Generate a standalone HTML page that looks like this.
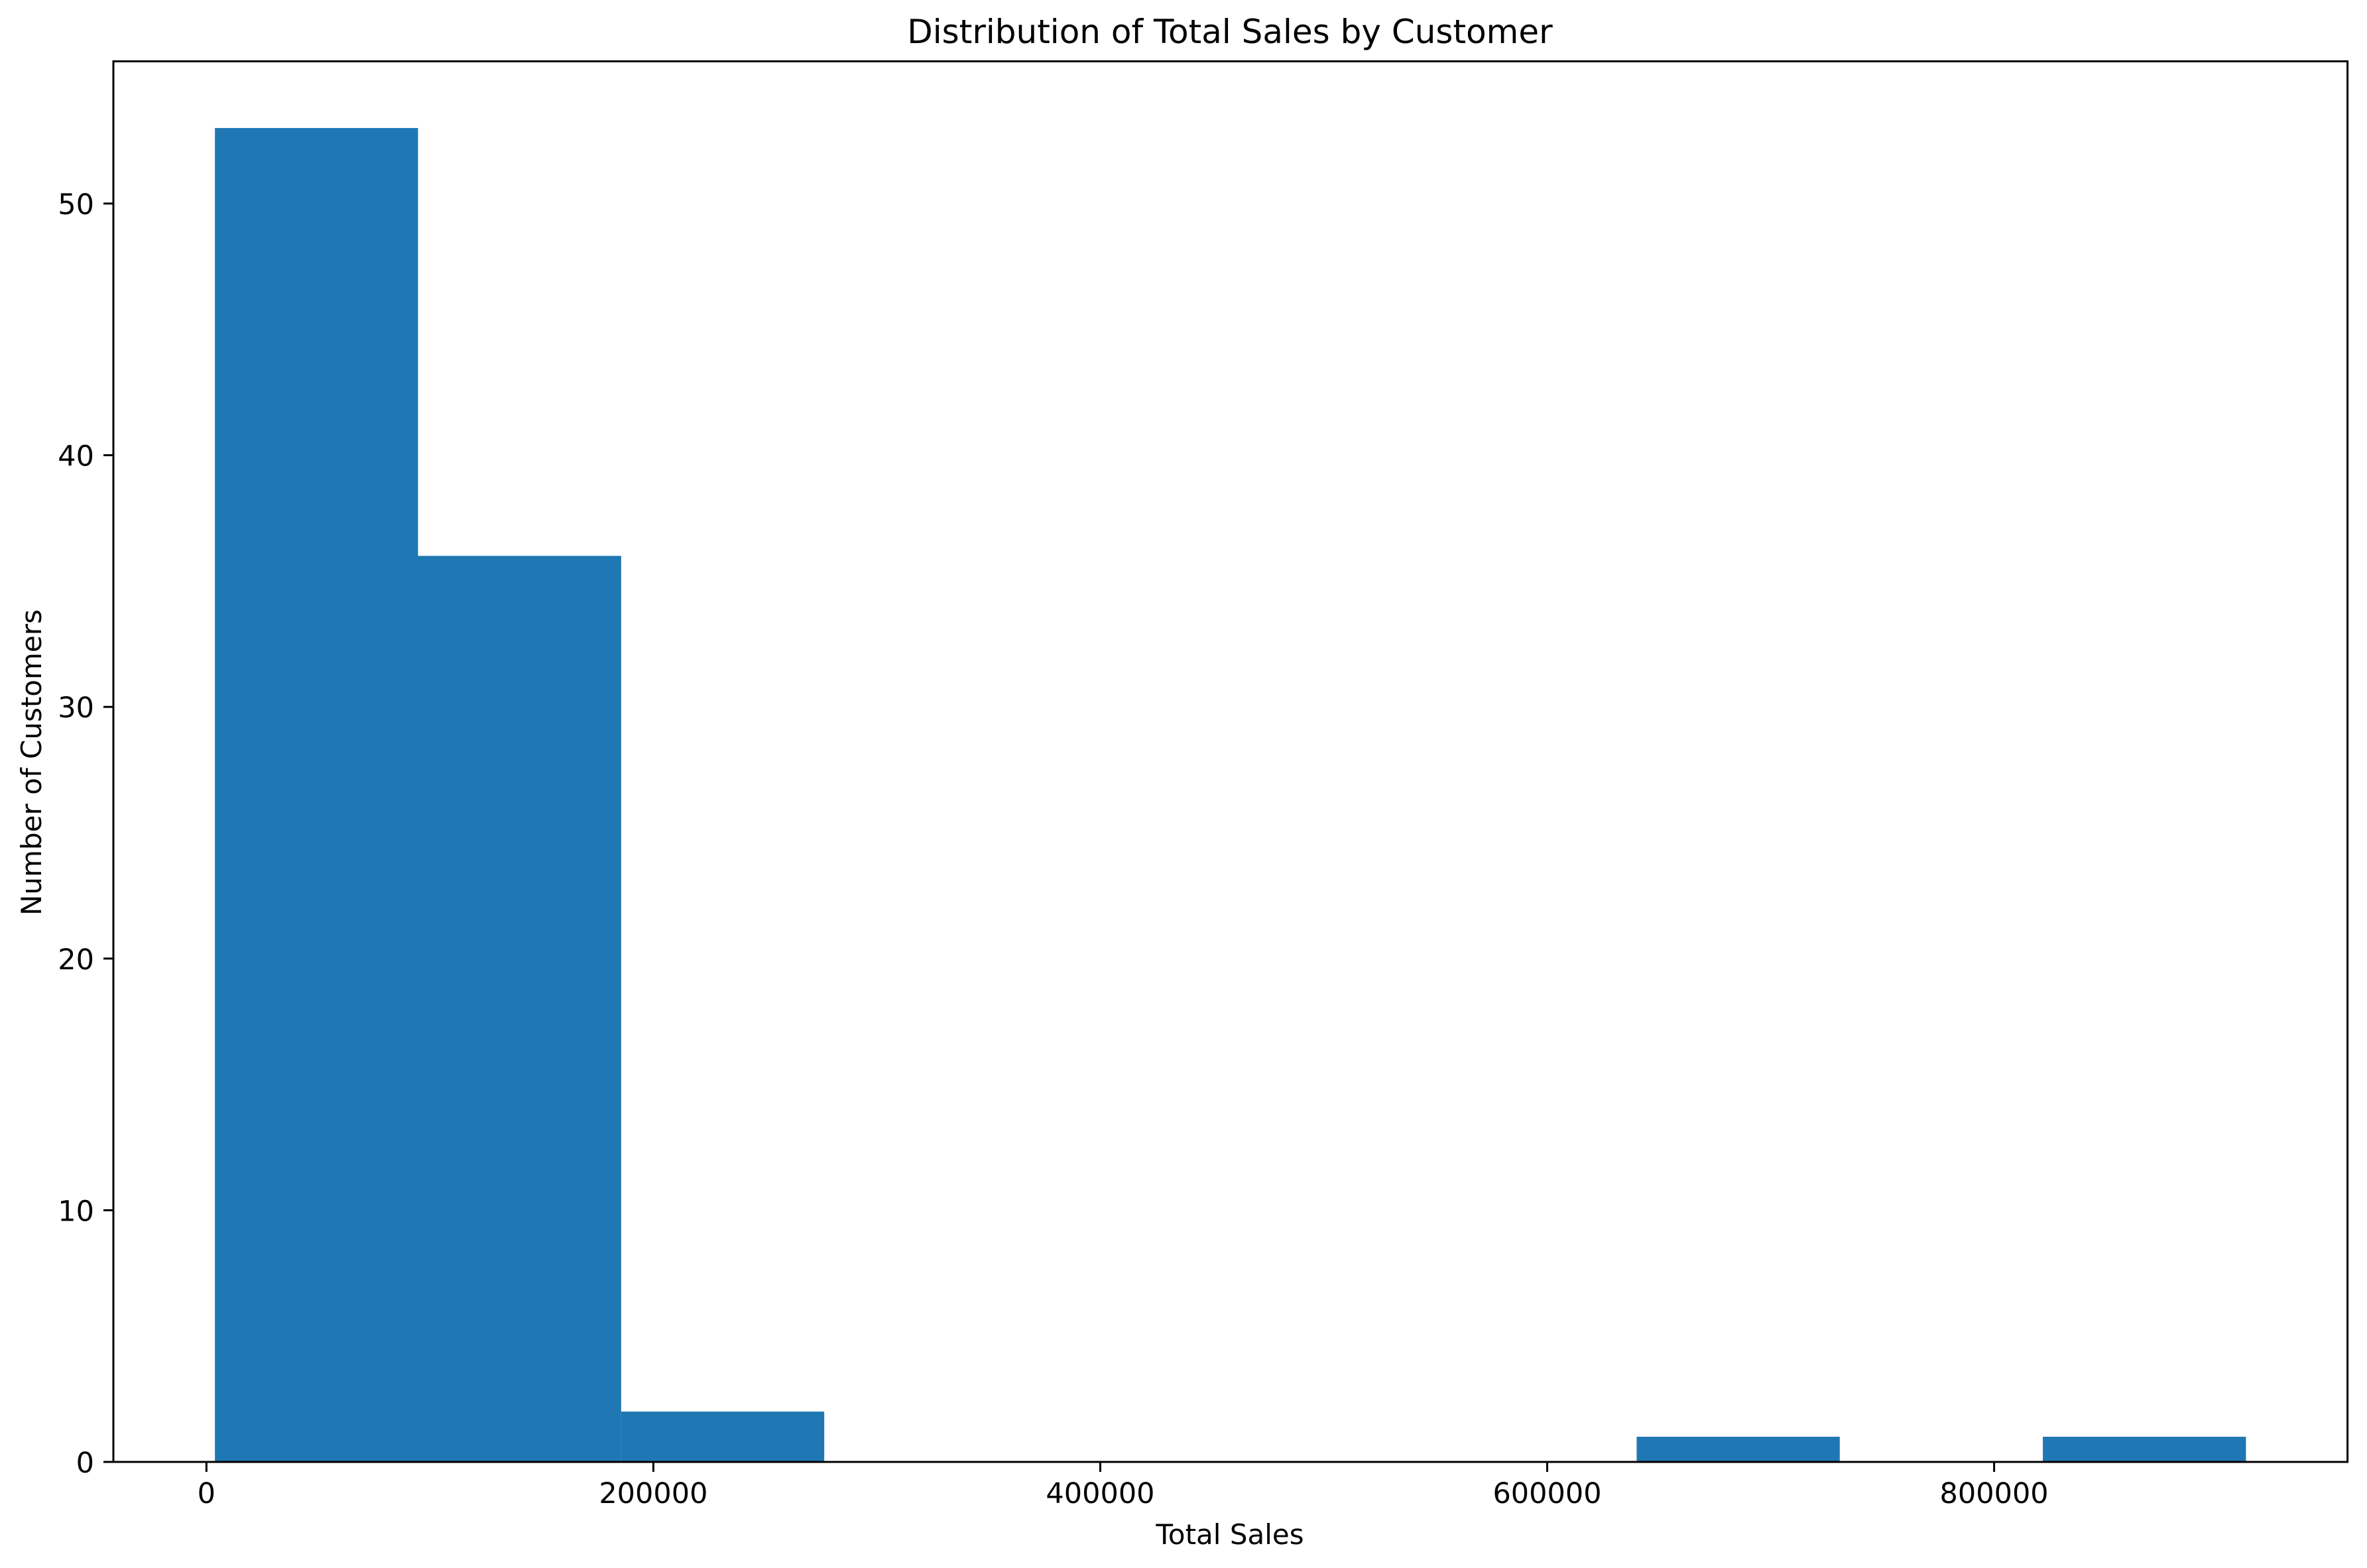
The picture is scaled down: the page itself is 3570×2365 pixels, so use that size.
<!DOCTYPE html>
<html><head><meta charset="utf-8"><style>
html,body{margin:0;padding:0;background:#fff;}
svg{display:block;}
text{font-family:"DejaVu Sans","Liberation Sans",sans-serif;fill:#000;}
</style></head><body>
<svg id="chart" width="3570" height="2365" viewBox="0 0 3570 2365" xmlns="http://www.w3.org/2000/svg">
<text x="1855" y="65" font-size="50" text-anchor="middle">Distribution of Total Sales by Customer</text>
<text x="1855" y="2329" font-size="42" text-anchor="middle">Total Sales</text>
<text transform="translate(62,1150) rotate(-90)" font-size="42" text-anchor="middle">Number of Customers</text>
<g id="bars"></g>
<g id="xticks"></g>
<g id="yticks"></g>
<rect x="171" y="92.5" width="3369.6" height="2112.5" fill="none" stroke="#000" stroke-width="3"/>
</svg>
<script>
const binStart = 3800;
const binWidth = 90890;
const counts = [53, 36, 2, 0, 0, 0, 0, 1, 0, 1];
const xTickValues = [0, 200000, 400000, 600000, 800000];
const xTickLabels = ["0", "200000", "400000", "600000", "800000"];
const yTickValues = [0, 10, 20, 30, 40, 50];
const yTickLabels = ["0", "10", "20", "30", "40", "50"];

const NS = "http://www.w3.org/2000/svg";
const L = 171, R = 3540.6, T = 92.5, B = 2205;
const xmin = -41645, xmax = 958145, ymin = 0, ymax = 55.65;
function xs(v){ return L + (v - xmin) / (xmax - xmin) * (R - L); }
function ys(v){ return B - (v - ymin) / (ymax - ymin) * (B - T); }
function mk(tag, attrs){ const e = document.createElementNS(NS, tag); for (const k in attrs) e.setAttribute(k, attrs[k]); return e; }

const gb = document.getElementById("bars");
counts.forEach((c, i) => {
  if (c <= 0) return;
  const x0 = xs(binStart + i * binWidth), x1 = xs(binStart + (i + 1) * binWidth);
  const r = mk("rect", {x: x0, y: ys(c), width: x1 - x0, height: ys(0) - ys(c), fill: "#1f77b4"});
  
  
  gb.appendChild(r);
});

const gx = document.getElementById("xticks");
xTickValues.forEach((v, i) => {
  const x = xs(v);
  const t = mk("line", {x1: x, x2: x, y1: B, y2: B + 15, stroke: "#000", "stroke-width": 3});
  
  
  gx.appendChild(t);
  const tx = mk("text", {x: x, y: 2267, "font-size": 43, "text-anchor": "middle"});
  tx.textContent = xTickLabels[i];
  
  
  gx.appendChild(tx);
});

const gy = document.getElementById("yticks");
yTickValues.forEach((v, i) => {
  const y = ys(v);
  const t = mk("line", {x1: L - 15, x2: L, y1: y, y2: y, stroke: "#000", "stroke-width": 3});
  
  
  gy.appendChild(t);
  const tx = mk("text", {x: 142, y: y + 16, "font-size": 43, "text-anchor": "end"});
  tx.textContent = yTickLabels[i];
  
  
  gy.appendChild(tx);
});
</script>
</body></html>
